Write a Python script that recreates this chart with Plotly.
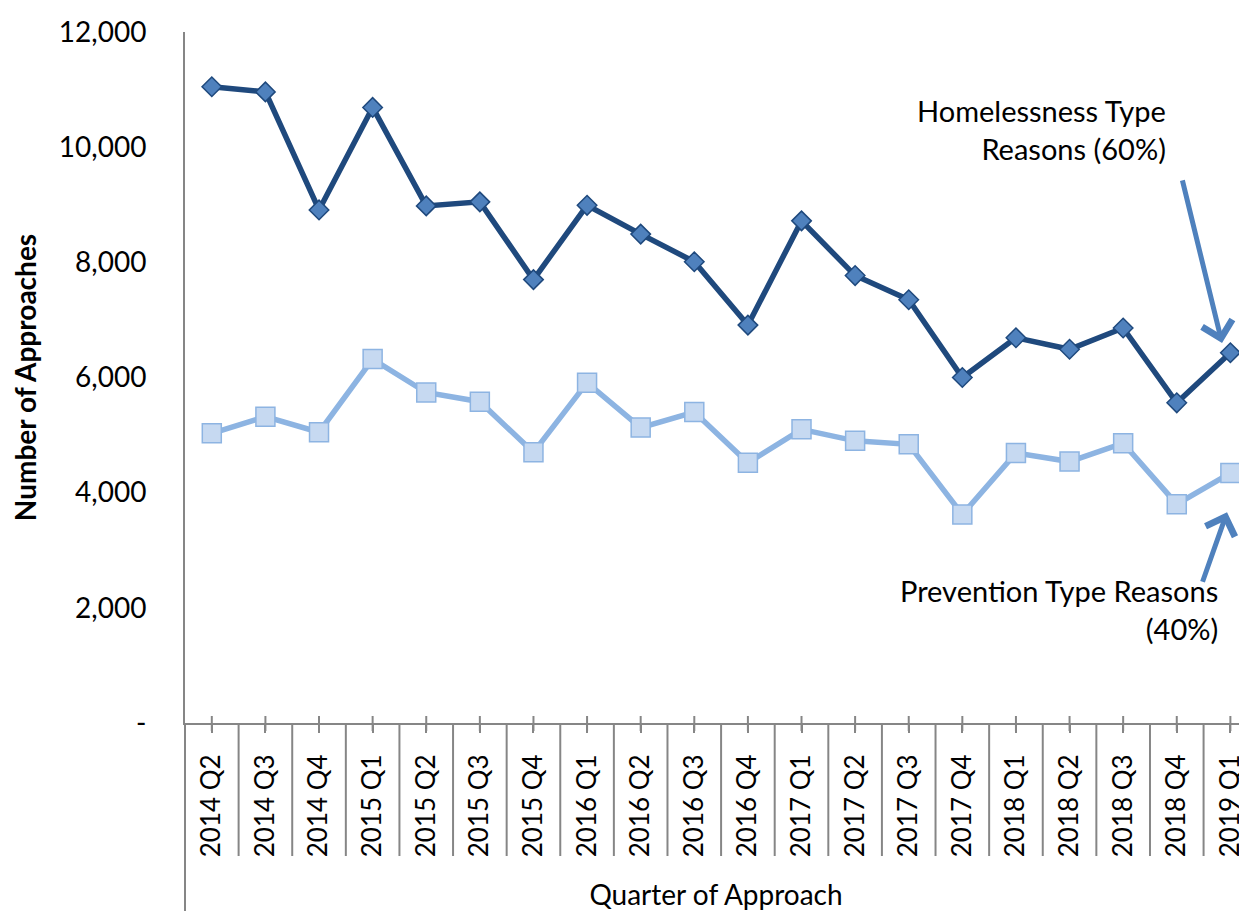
import plotly.graph_objects as go

# quarters and approaches per quarter
quarters = ["2014 Q2", "2014 Q3", "2014 Q4", "2015 Q1", "2015 Q2", "2015 Q3", "2015 Q4",
            "2016 Q1", "2016 Q2", "2016 Q3", "2016 Q4", "2017 Q1", "2017 Q2", "2017 Q3",
            "2017 Q4", "2018 Q1", "2018 Q2", "2018 Q3", "2018 Q4", "2019 Q1"]
homelessness = [11050, 10960, 8910, 10690, 8980, 9050, 7700, 8990, 8490, 8010,
                6910, 8720, 7770, 7350, 6000, 6690, 6490, 6860, 5560, 6430]
prevention = [5030, 5320, 5050, 6320, 5740, 5580, 4700, 5910, 5130, 5400,
              4520, 5100, 4900, 4840, 3620, 4690, 4540, 4860, 3800, 4340]
y_ticks = [0, 2000, 4000, 6000, 8000, 10000, 12000]
y_ticktext = ["-", "2,000", "4,000", "6,000", "8,000", "10,000", "12,000"]

FONT = "Lato"
GREY = "#868686"

fig = go.Figure()
fig.add_trace(go.Scatter(x=quarters, y=homelessness, mode="lines+markers",
                         name="Homelessness Type Reasons",
                         line=dict(color="#1F497D", width=5.5),
                         marker=dict(symbol="diamond", size=15, color="#4F81BD",
                                     line=dict(color="#1F497D", width=1.5))))
fig.add_trace(go.Scatter(x=quarters, y=prevention, mode="lines+markers",
                         name="Prevention Type Reasons",
                         line=dict(color="#8DB4E2", width=5.5),
                         marker=dict(symbol="square", size=19, color="#C6D9F1",
                                     line=dict(color="#8DB4E2", width=1.5))))

# excel style axis decorations: divider lines between categories, crossing ticks
shapes = []
for i in range(len(quarters) + 1):
    shapes.append(dict(type="line", xref="x", x0=i - 0.5, x1=i - 0.5,
                       yref="paper", ysizemode="pixel", yanchor=0, y0=-133, y1=0,
                       line=dict(color=GREY, width=2)))
for i in range(len(quarters)):
    shapes.append(dict(type="line", xref="x", x0=i, x1=i,
                       yref="paper", ysizemode="pixel", yanchor=0, y0=-8, y1=7,
                       line=dict(color=GREY, width=2)))
# y axis line carries on down past the labels
shapes.append(dict(type="line", xref="paper", x0=0, x1=0,
                   yref="paper", ysizemode="pixel", yanchor=0, y0=-200, y1=0,
                   line=dict(color=GREY, width=2)))

annotations = [
    dict(text="Homelessness Type<br>Reasons (60%)", xref="paper", yref="paper",
         x=0.9256, y=0.8587, xanchor="right", yanchor="middle", align="right",
         showarrow=False, font=dict(family=FONT, size=29, color="black")),
    dict(text="Prevention Type Reasons<br>(40%)", xref="paper", yref="paper",
         x=0.9746, y=0.1645, xanchor="right", yanchor="middle", align="right",
         showarrow=False, font=dict(family=FONT, size=29, color="black")),
    dict(text="", xref="paper", yref="paper", x=0.9765, y=0.55, ax=-40, ay=-164,
         showarrow=True, arrowhead=4, arrowsize=1.2, arrowwidth=5, arrowcolor="#4F81BD"),
    dict(text="", xref="paper", yref="paper", x=0.9812, y=0.305, ax=-25, ay=71,
         showarrow=True, arrowhead=4, arrowsize=1.2, arrowwidth=5, arrowcolor="#4F81BD"),
]

# page body has an 8px margin, so the figure is 8px smaller on each side
fig.update_layout(
    width=1239, height=903,
    margin=dict(l=177, r=0, t=24, b=188),
    plot_bgcolor="white", paper_bgcolor="white",
    showlegend=False,
    font=dict(family=FONT, size=28, color="black"),
    shapes=shapes,
    annotations=annotations,
    xaxis=dict(type="category", categoryorder="array", categoryarray=quarters,
               range=[-0.5, 19.31], showgrid=False, zeroline=False,
               showline=True, linecolor=GREY, linewidth=2,
               ticks="outside", ticklen=8, tickwidth=2, tickcolor=GREY,
               tickangle=-90, ticklabelstandoff=11, automargin=False,
               tickfont=dict(family=FONT, size=26, color="black"),
               title=dict(text="Quarter of Approach", standoff=40,
                          font=dict(family=FONT, size=28, color="black"))),
    yaxis=dict(range=[0, 12000], tickvals=y_ticks, ticktext=y_ticktext,
               showgrid=False, zeroline=False, showline=True,
               linecolor=GREY, linewidth=2, ticks="", ticklabelstandoff=31,
               automargin=False,
               tickfont=dict(family=FONT, size=28, color="black"),
               title=dict(text="<b>Number of Approaches</b>", standoff=16,
                          font=dict(family=FONT, size=28, color="black"))),
)

fig.write_html("out.html")
